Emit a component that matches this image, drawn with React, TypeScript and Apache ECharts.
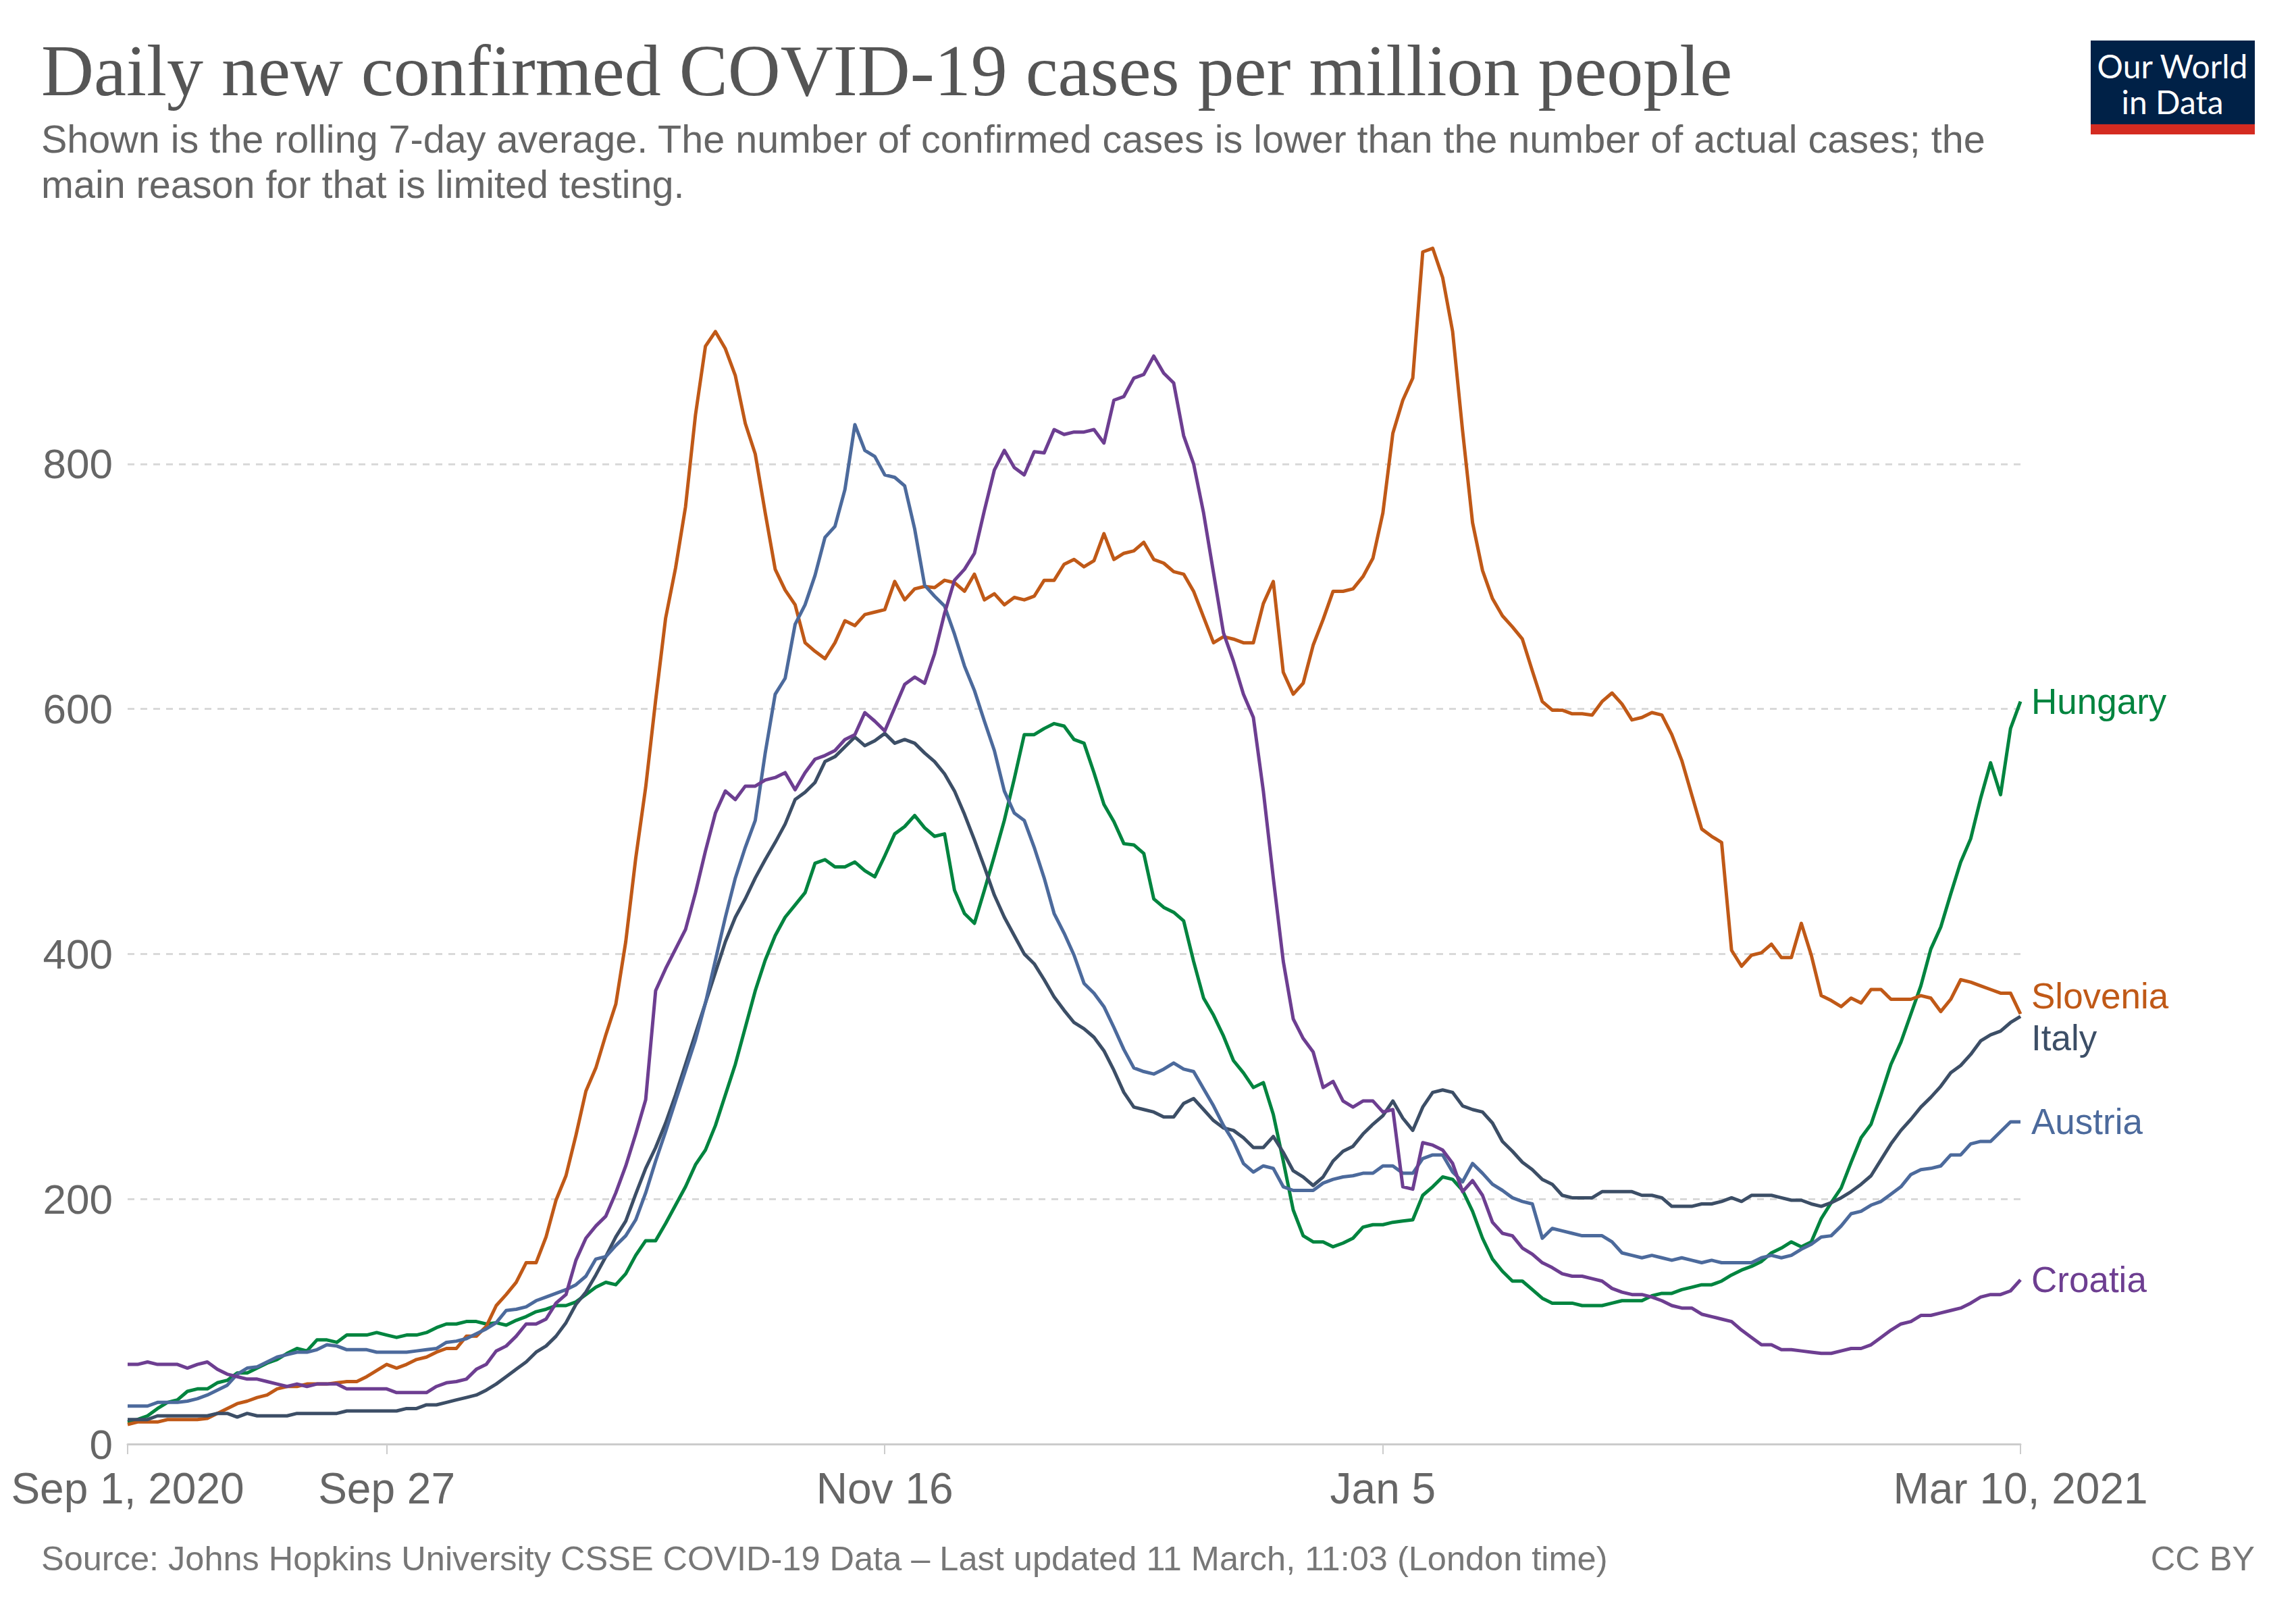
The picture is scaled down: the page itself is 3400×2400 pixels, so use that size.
import React, { useEffect, useRef } from 'react';
import * as echarts from 'echarts';

// ---------- DATA ----------
const startDate = '2020-09-01';
const dayCount = 191; // Sep 1, 2020 .. Mar 10, 2021

const tickDates = ['2020-09-01', '2020-09-27', '2020-11-16', '2021-01-05', '2021-03-10'];
const tickLabels = ['Sep 1, 2020', 'Sep 27', 'Nov 16', 'Jan 5', 'Mar 10, 2021'];

const yTicks = [0, 200, 400, 600, 800];

const seriesNames = ['Hungary', 'Slovenia', 'Italy', 'Austria', 'Croatia'];
const seriesColors = ['#00843F', '#C05917', '#3C4E66', '#4C6A9C', '#6D3E91'];

const hungary = [
  18, 20, 23, 29, 34, 36, 43, 45, 45, 50,
  52, 58, 58, 62, 66, 69, 74, 78, 76, 85,
  85, 83, 89, 89, 89, 91, 89, 87, 89, 89,
  91, 95, 98, 98, 100, 100, 98, 99, 97, 101,
  104, 108, 110, 113, 113, 116, 122, 128, 132, 130,
  139, 154, 166, 166, 180, 195, 210, 228, 240, 260,
  285, 310, 340, 370, 395, 415, 430, 440, 450, 474,
  477, 471, 471, 475, 468, 463, 480, 498, 504, 513,
  503, 496, 498, 452, 433, 425, 452, 480, 509, 543,
  579, 579, 584, 588, 586, 575, 572, 548, 522, 508,
  490, 489, 482, 445, 438, 434, 427, 394, 364, 350,
  333, 313, 303, 291, 295, 269, 231, 191, 170, 165,
  165, 161, 164, 168, 177, 179, 179, 181, 182, 183,
  203, 210, 218, 216, 207, 190, 168, 151, 141, 133,
  133, 126, 119, 115, 115, 115, 113, 113, 113, 115,
  117, 117, 117, 121, 123, 123, 126, 128, 130, 130,
  133, 138, 142, 145, 149, 156, 160, 165, 161, 165,
  184, 197, 209, 230, 250, 261, 285, 310, 328, 351,
  374, 404, 422, 449, 475, 494, 527, 556, 530, 584,
  606,
];

const slovenia = [
  16, 18, 18, 18, 20, 20, 20, 20, 21, 25,
  29, 33, 35, 38, 40, 45, 47, 47, 49, 49,
  49, 50, 51, 51, 55, 60, 65, 62, 65, 69,
  71, 75, 78, 78, 88, 88, 96, 113, 122, 132,
  148, 148, 169, 199, 219, 252, 288, 307, 334, 359,
  410, 478, 536, 607, 674, 715, 765, 840, 896, 908,
  894, 872, 833, 808, 760, 714, 697, 685, 654, 647,
  641, 654, 672, 668, 677, 679, 681, 704, 689, 698,
  700, 699, 705, 703, 696, 710, 689, 694, 685, 691,
  689, 692, 705, 705, 718, 722, 716, 721, 743, 722,
  727, 729, 736, 722, 719, 712, 710, 696, 675, 654,
  659, 657, 654, 654, 686, 704, 630, 612, 621, 652,
  673, 696, 696, 698, 708, 723, 760, 825, 852, 870,
  973, 976, 952, 908, 827, 752, 713, 690, 676, 667,
  657, 631, 606, 599, 599, 596, 596, 595, 606, 613,
  604, 591, 593, 597, 595, 579, 558, 530, 502, 496,
  491, 403, 390, 399, 401, 408, 397, 397, 425, 399,
  366, 362, 357, 364, 360, 371, 371, 363, 363, 363,
  366, 364, 353, 363, 379, 377, 374, 371, 368, 368,
  351,
];

const italy = [
  20, 20, 20, 23, 23, 23, 23, 23, 23, 25,
  25, 22, 25, 23, 23, 23, 23, 25, 25, 25,
  25, 25, 27, 27, 27, 27, 27, 27, 29, 29,
  32, 32, 34, 36, 38, 40, 44, 49, 55, 61,
  67, 75, 80, 88, 99, 114, 124, 138, 153, 169,
  182, 204, 225, 242, 262, 285, 310, 335, 360, 385,
  410, 430, 445, 462, 477, 491, 506, 526, 532, 540,
  557, 561, 569, 577, 570, 574, 580, 572, 575, 572,
  564, 557, 547, 533, 514, 493, 471, 448, 430, 415,
  400, 392, 379, 365, 354, 344, 339, 332, 321, 305,
  287, 275, 273, 271, 267, 267, 278, 282, 273, 264,
  258, 256, 250, 242, 242, 251, 238, 223, 218, 211,
  218, 231, 239, 243, 253, 261, 268, 280, 266, 256,
  275, 287, 289, 287, 276, 273, 271, 262, 247, 239,
  230, 224, 216, 212, 203, 201, 201, 201, 206, 206,
  206, 206, 203, 203, 201, 194, 194, 194, 196, 196,
  198, 201, 198, 203, 203, 203, 201, 199, 199, 196,
  194, 197, 201, 206, 212, 219, 232, 245, 256, 265,
  275, 283, 292, 303, 309, 318, 329, 334, 337, 344,
  349,
];

const austria = [
  31, 31, 31, 34, 34, 34, 35, 37, 40, 44,
  48, 57, 62, 63, 67, 71, 73, 75, 75, 77,
  81, 80, 77, 77, 77, 75, 75, 75, 75, 76,
  77, 78, 83, 84, 86, 90, 94, 99, 109, 110,
  112, 117, 120, 123, 126, 130, 137, 151, 153, 162,
  170, 183, 205, 231, 255, 280, 305, 330, 360, 395,
  430, 462, 487, 509, 564, 612, 625, 669, 685, 709,
  740, 749, 779, 832, 811, 806, 791, 789, 782, 747,
  701, 692, 684, 661, 635, 615, 590, 566, 533, 515,
  509, 487, 462, 433, 417, 399, 376, 368, 357, 340,
  322, 307, 304, 302, 306, 311, 306, 304, 290, 276,
  260, 247, 229, 222, 227, 225, 210, 207, 207, 207,
  213, 216, 218, 219, 221, 221, 227, 227, 221, 221,
  233, 236, 236, 222, 214, 229, 221, 212, 207, 201,
  198, 196, 168, 176, 174, 172, 170, 170, 170, 165,
  156, 154, 152, 154, 152, 150, 152, 150, 148, 150,
  148, 148, 148, 148, 152, 154, 152, 154, 159, 163,
  169, 170, 178, 188, 190, 195, 198, 204, 210, 220,
  224, 225, 227, 236, 236, 245, 247, 247, 255, 263,
  263,
];

const croatia = [
  65, 65, 67, 65, 65, 65, 62, 65, 67, 61,
  57, 55, 53, 53, 51, 49, 47, 49, 47, 49,
  49, 49, 45, 45, 45, 45, 45, 42, 42, 42,
  42, 47, 50, 51, 53, 61, 65, 76, 80, 88,
  98, 98, 102, 115, 122, 150, 168, 178, 186, 205,
  227, 253, 281, 370, 388, 404, 420, 450, 484, 515,
  533, 526, 537, 537, 542, 544, 548, 534, 548, 559,
  562, 566, 575, 579, 597, 590, 582, 601, 620, 626,
  621, 645, 678, 705, 714, 727, 762, 795, 811, 797,
  791, 810, 809, 828, 824, 826, 826, 828, 817, 852,
  855, 870, 873, 888, 874, 866, 823, 800, 760, 711,
  662, 639, 612, 593, 533, 462, 394, 347, 331, 320,
  291, 296, 280, 275, 280, 280, 271, 273, 210, 208,
  246, 244, 240, 229, 206, 215, 203, 181, 172, 170,
  160, 155, 148, 144, 139, 137, 137, 135, 133, 127,
  124, 122, 122, 120, 117, 113, 111, 111, 106, 104,
  102, 100, 93, 87, 81, 81, 77, 77, 76, 75,
  74, 74, 76, 78, 78, 81, 87, 93, 98, 100,
  105, 105, 107, 109, 111, 115, 120, 122, 122, 125,
  134,
];

const seriesValues = [hungary, slovenia, italy, austria, croatia];
// vertical nudges of end labels (px) so they do not collide
const labelOffsets = [0, -27, 32, 0, 0];

const titleText = 'Daily new confirmed COVID-19 cases per million people';
const subtitleLines = [
  'Shown is the rolling 7-day average. The number of confirmed cases is lower than the number of actual cases; the',
  'main reason for that is limited testing.',
];
const sourceText = 'Source: Johns Hopkins University CSSE COVID-19 Data \u2013 Last updated 11 March, 11:03 (London time)';
const licenseText = 'CC BY';

// ---------- HELPERS ----------
const DAY = 24 * 3600 * 1000;
const startMs = Date.parse(startDate + 'T00:00:00Z');
const dayIndex = (iso: string) => Math.round((Date.parse(iso + 'T00:00:00Z') - startMs) / DAY);
const tickDays = tickDates.map(dayIndex);

const SANS = '"Liberation Sans", Arial, sans-serif';

export default function App() {
  const ref = useRef<HTMLDivElement>(null);

  useEffect(() => {
    if (!ref.current) return;
    const chart = echarts.init(ref.current, null, { renderer: 'svg' });

    const series: any[] = seriesNames.map((name, k) => ({
      name,
      type: 'line',
      data: seriesValues[k].map((v, i) => [i, v]),
      showSymbol: false,
      symbol: 'none',
      smooth: false,
      lineStyle: { color: seriesColors[k], width: 5, join: 'round' },
      itemStyle: { color: seriesColors[k] },
      z: 3,
      endLabel: {
        show: true,
        formatter: name,
        color: seriesColors[k],
        fontFamily: SANS,
        fontSize: 53,
        distance: 16,
        offset: [0, labelOffsets[k]],
      },
      emphasis: { disabled: true },
    }));

    const option: any = {
      animation: false,
      backgroundColor: '#ffffff',
      grid: { left: 189, right: 408, top: 324, bottom: 262, containLabel: false },
      xAxis: {
        type: 'value',
        min: 0,
        max: dayCount - 1,
        axisLine: { show: true, lineStyle: { color: '#cccccc', width: 3 } },
        axisTick: {
          show: true,
          customValues: tickDays,
          length: 15,
          lineStyle: { color: '#cccccc', width: 2 },
        },
        axisLabel: {
          show: true,
          customValues: tickDays,
          formatter: (v: number) => {
            const idx = tickDays.indexOf(Math.round(v));
            return idx >= 0 ? tickLabels[idx] : '';
          },
          color: '#666666',
          fontFamily: SANS,
          fontSize: 64,
          margin: 34,
          hideOverlap: false,
        },
        splitLine: { show: false },
      },
      yAxis: {
        type: 'value',
        min: 0,
        max: 1000,
        interval: 200,
        axisLine: { show: false },
        axisTick: { show: false },
        axisLabel: {
          color: '#666666',
          fontFamily: SANS,
          fontSize: 62,
          margin: 22,
          showMaxLabel: false,
          formatter: (v: number) => (yTicks.indexOf(v) >= 0 ? String(v) : ''),
        },
        splitLine: {
          show: true,
          showMinLine: false,
          showMaxLine: false,
          lineStyle: { color: '#d9d9d9', width: 3, type: [10, 9] },
        },
      },
      series,
      graphic: [
        {
          type: 'text',
          left: 61,
          top: 50,
          style: {
            text: titleText,
            fontFamily: '"Liberation Serif", "Times New Roman", serif',
            fontSize: 108,
            fill: '#555555',
          },
        },
        ...subtitleLines.map((line, i) => ({
          type: 'text',
          left: 61,
          top: 177 + i * 67,
          style: {
            text: line,
            fontFamily: SANS,
            fontSize: 57.5,
            fill: '#666666',
          },
        })),
        {
          type: 'text',
          left: 61,
          top: 2282,
          style: { text: sourceText, fontFamily: SANS, fontSize: 50.5, fill: '#777777' },
        },
        {
          type: 'text',
          right: 61,
          top: 2282,
          style: { text: licenseText, fontFamily: SANS, fontSize: 50.5, fill: '#777777' },
        },
        {
          type: 'rect',
          left: 3096,
          top: 60,
          shape: { width: 243, height: 124 },
          style: { fill: '#002147' },
        },
        {
          type: 'rect',
          left: 3096,
          top: 184,
          shape: { width: 243, height: 15 },
          style: { fill: '#D42B21' },
        },
        {
          type: 'text',
          x: 3217,
          y: 97,
          style: {
            text: 'Our World',
            fontFamily: 'Lato, sans-serif',
            fontSize: 48,
            fill: '#ffffff',
            align: 'center',
            verticalAlign: 'middle',
            textAlign: 'center',
            textVerticalAlign: 'middle',
          },
        },
        {
          type: 'text',
          x: 3217,
          y: 150,
          style: {
            text: 'in Data',
            fontFamily: 'Lato, sans-serif',
            fontSize: 48,
            fill: '#ffffff',
            align: 'center',
            verticalAlign: 'middle',
            textAlign: 'center',
            textVerticalAlign: 'middle',
          },
        },
      ],
    };

    chart.setOption(option);
    return () => chart.dispose();
  }, []);

  return (
    <div
      ref={ref}
      style={{ position: 'absolute', left: 0, top: 0, width: 3400, height: 2400, background: '#fff' }}
    />
  );
}
